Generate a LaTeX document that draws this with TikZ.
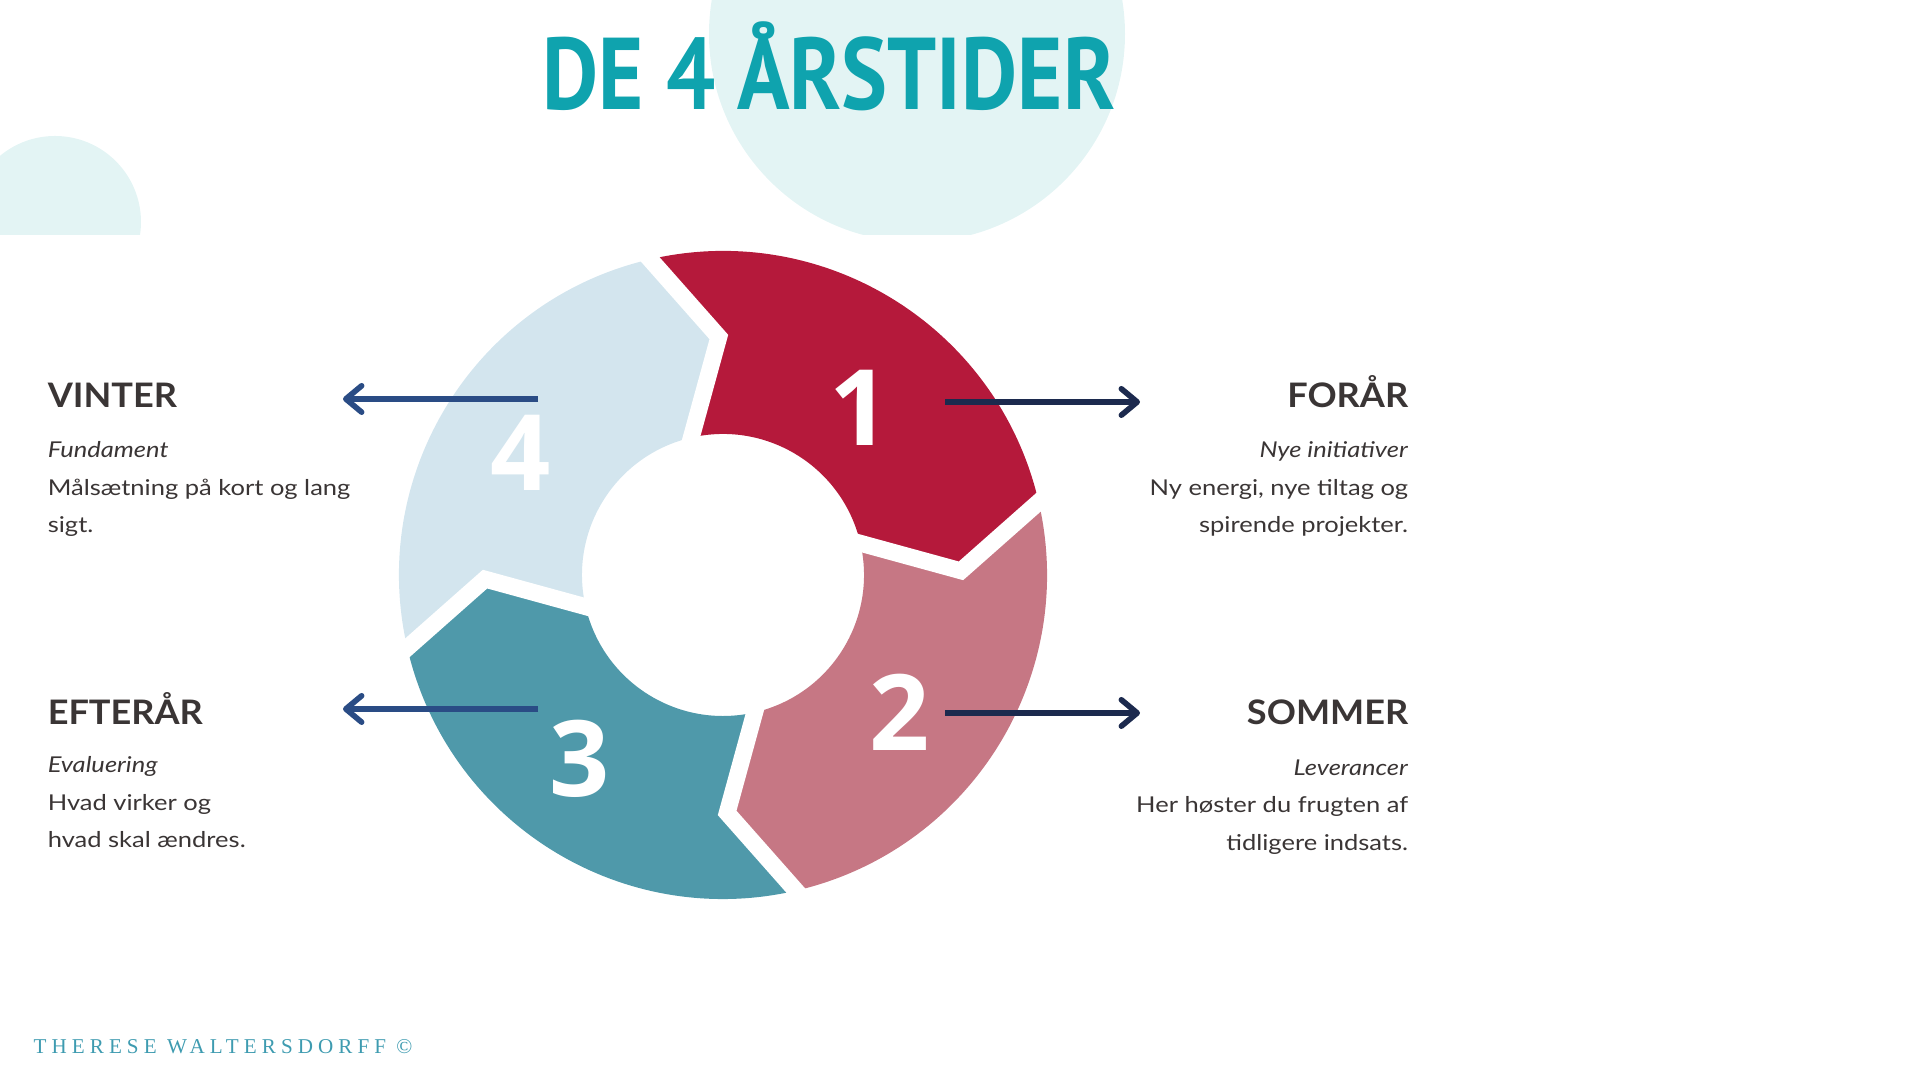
\documentclass[tikz,border=0pt]{standalone}
\usepackage{fontspec}
\setmainfont{Lato}
\newfontfamily\titlefont{PT Sans}
\newfontfamily\numfont{Open Sans}
\newfontfamily\footfont[LetterSpace=24]{Liberation Serif}
\usetikzlibrary{arrows.meta}
\definecolor{seasred}{HTML}{B5193B}
\definecolor{seaspink}{HTML}{C67784}
\definecolor{seasteal}{HTML}{4F99AA}
\definecolor{seasblue}{HTML}{D3E5EE}
\definecolor{bgteal}{HTML}{E3F4F4}
\definecolor{titleteal}{HTML}{0FA3AE}
\definecolor{textgray}{HTML}{3A3535}
\definecolor{leftnavy}{HTML}{2A4C85}
\definecolor{rightnavy}{HTML}{1C2A4E}
\definecolor{creditteal}{HTML}{3E9BB0}

\begin{document}
\begin{tikzpicture}[x=0.01cm,y=0.01cm,
    season/.style ={font=\fontsize{9.6}{11}\selectfont\bfseries, text=textgray, inner sep=0, xscale=1.07},
    notes/.style ={font=\fontsize{6.2}{10.7}\selectfont, text=textgray, inner sep=0, xscale=1.17},
    number/.style ={font=\numfont\fontsize{30}{30}\selectfont\bfseries, text=white, inner sep=0},
    gap/.style ={draw=white, line width=4.8pt, line join=miter, line cap=rect},
    pointer/.style ={line width=1.6pt, -{Straight Barb[round,length=4.5pt,width=7.5pt]}}]
  \useasboundingbox (0,0) rectangle (1920,1080);
  % background
  \begin{scope}
    \clip (0,845) rectangle (1920,1080);
    \fill[bgteal] (917,1046) circle[radius=208];
    \fill[bgteal] (55,858) circle[radius=86];
  \end{scope}
  \node[font=\titlefont\fontsize{29}{29}\selectfont\bfseries, text=titleteal, xscale=0.85, inner sep=0, anchor=base] (title) at (829,970) {DE 4 ÅRSTIDER};

  % ring
  \begin{scope}[shift={(723,505)}]
    \foreach \s/\c in {103/seasred, 13/seaspink, -77/seasteal, -167/seasblue}
      \fill[\c] (\s:324) arc[start angle=\s, end angle=\s-90, radius=324] -- (\s-102:238)
        -- (\s-90:141) arc[start angle=\s-90, end angle=\s, radius=141] -- (\s-12:238) -- cycle;
    \foreach \s in {103,13,-77,-167}
      \draw[gap] (\s:324) -- (\s-12:238) -- (\s:141);
  \end{scope}
  \node[number] (n1) at (860,672) {1};
  \node[number] (n2) at (900,368) {2};
  \node[number] (n3) at (580,321) {3};
  \node[number] (n4) at (521,627) {4};

  % arrows
  \coordinate (p1) at (945,678);
  \coordinate (q1) at (1140,678);
  \coordinate (p2) at (945,367);
  \coordinate (q2) at (1140,367);
  \coordinate (p3) at (538,371);
  \coordinate (q3) at (343,371);
  \coordinate (p4) at (538,681);
  \coordinate (q4) at (343,681);
  \draw[pointer, rightnavy] (p1) -- (q1);
  \draw[pointer, rightnavy] (p2) -- (q2);
  \draw[pointer, leftnavy] (p3) -- (q3);
  \draw[pointer, leftnavy] (p4) -- (q4);

  % texts
  \node[season, anchor=base west] (vinter) at (47,672) {VINTER};
  \node[notes, anchor=north west, align=left] (vinterTxt) at (47,639) {\textit{Fundament}\\Målsætning på kort og lang\\sigt.};
  \node[season, anchor=base west] (efteraar) at (47,355) {EFTERÅR};
  \node[notes, anchor=north west, align=left] (efteraarTxt) at (47,324) {\textit{Evaluering}\\Hvad virker og\\hvad skal ændres.};
  \node[season, anchor=base east] (foraar) at (1409,672) {FORÅR};
  \node[notes, anchor=north east, align=right] (foraarTxt) at (1409,639) {\textit{Nye initiativer}\\Ny energi, nye tiltag og\\spirende projekter.};
  \node[season, anchor=base east] (sommer) at (1409,355) {SOMMER};
  \node[notes, anchor=north east, align=right] (sommerTxt) at (1409,321) {\textit{Leverancer}\\Her høster du frugten af\\tidligere indsats.};

  \node[font=\footfont\fontsize{6}{6}\selectfont, text=creditteal, inner sep=0, anchor=base west] (credit) at (33,26) {THERESE WALTERSDORFF ©};
\end{tikzpicture}
\end{document}
